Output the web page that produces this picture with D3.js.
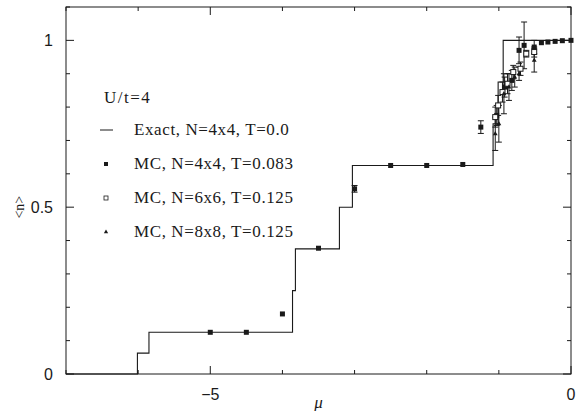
<!DOCTYPE html>
<html><head><meta charset="utf-8">
<script src="https://cdn.jsdelivr.net/npm/d3@7"></script>
<style>body{margin:0;background:#fff}svg{display:block}</style>
</head><body>
<script>
// Exact step function (N=4x4, T=0): left edge of each step and its value
const exactMu = [-7.0, -6.01, -5.85, -3.86, -3.82, -3.21, -3.03, -1.08, -1.01, -0.94, 0.0];
const exactN  = [0.0, 0.0625, 0.125, 0.25, 0.375, 0.5, 0.625, 0.75, 0.875, 1.0, 1.0];

// MC, N=4x4, T=0.083 (filled squares)
const mc4Mu  = [-5.0, -4.5, -4.0, -3.5, -3.0, -2.5, -2.0, -1.5, -1.25, -1.03, -0.92, -0.82, -0.72, -0.65, -0.51, -0.41, -0.32, -0.22, -0.12, 0.0];
const mc4N   = [0.125, 0.125, 0.18, 0.377, 0.555, 0.625, 0.625, 0.628, 0.74, 0.775, 0.86, 0.88, 0.97, 0.985, 0.98, 0.993, 0.995, 0.997, 0.999, 1.0];
const mc4Err = [0.003, 0.003, 0.004, 0.003, 0.01, 0.003, 0.003, 0.004, 0.019, 0.03, 0.03, 0.03, 0.04, 0.07, 0.02, 0.004, 0.003, 0.003, 0.002, 0.002];

// MC, N=6x6, T=0.125 (open squares)
const mc6Mu  = [-1.05, -1.01, -0.95, -0.88, -0.8, -0.7, -0.62, -0.51];
const mc6N   = [0.77, 0.805, 0.845, 0.87, 0.905, 0.915, 0.96, 0.965];
const mc6Err = [0.03, 0.03, 0.03, 0.03, 0.02, 0.02, 0.01, 0.015];

// MC, N=8x8, T=0.125 (small triangles)
const mc8Mu  = [-1.05, -1.0, -0.93, -0.86, -0.78, -0.72, -0.51];
const mc8N   = [0.72, 0.75, 0.84, 0.86, 0.89, 0.9, 0.94];
const mc8Err = [0.05, 0.055, 0.06, 0.04, 0.03, 0.02, 0.035];

const xTicksMajor = [-5, 0];
const xTicksMinor = [-7, -6, -4, -3, -2, -1];
const yTicksMajor = [0, 0.5, 1];
const yTicksMinor = [0.1, 0.2, 0.3, 0.4, 0.6, 0.7, 0.8, 0.9, 1.1];

const legendLabels = ["Exact, N=4x4, T=0.0", "MC, N=4x4, T=0.083", "MC, N=6x6, T=0.125", "MC, N=8x8, T=0.125"];

const W = 576, H = 411;
const m = {left: 66, right: 5, top: 7, bottom: 37};
const ink = "#1a1a1a";

const svg = d3.select("body").append("svg").attr("width", W).attr("height", H);
const x = d3.scaleLinear().domain([-7, 0]).range([m.left, W - m.right]);
const y = d3.scaleLinear().domain([0, 1.1]).range([H - m.bottom, m.top]);

// frame
svg.append("rect").attr("x", m.left).attr("y", m.top)
  .attr("width", W - m.right - m.left).attr("height", H - m.bottom - m.top)
  .attr("fill", "none").attr("stroke", ink).attr("stroke-width", 1);

// ticks (inward on all four sides)
const tickG = svg.append("g").attr("stroke", ink).attr("stroke-width", 1);
function vtick(v, len) {
  tickG.append("line").attr("x1", x(v)).attr("x2", x(v)).attr("y1", y(0)).attr("y2", y(0) - len);
  tickG.append("line").attr("x1", x(v)).attr("x2", x(v)).attr("y1", y(1.1)).attr("y2", y(1.1) + len);
}
function htick(v, len) {
  tickG.append("line").attr("y1", y(v)).attr("y2", y(v)).attr("x1", x(-7)).attr("x2", x(-7) + len);
  tickG.append("line").attr("y1", y(v)).attr("y2", y(v)).attr("x1", x(0)).attr("x2", x(0) - len);
}
xTicksMajor.forEach(v => vtick(v, 8));
xTicksMinor.forEach(v => vtick(v, 4));
yTicksMajor.forEach(v => htick(v, 8));
yTicksMinor.forEach(v => htick(v, 4));

// tick labels
const fmt = d3.format("");
const tl = svg.append("g").attr("font-family", "Liberation Sans, Arial, sans-serif").attr("font-size", 16).attr("fill", ink);
xTicksMajor.forEach(v => tl.append("text").attr("x", x(v)).attr("y", y(0) + 26).attr("text-anchor", "middle")
  .text(v < 0 ? "\u2212" + Math.abs(v) : fmt(v)));
yTicksMajor.forEach(v => tl.append("text").attr("x", m.left - 13).attr("y", y(v) + 6).attr("text-anchor", "end").text(fmt(v)));

// axis titles
svg.append("text").attr("x", x(-3.5)).attr("y", H - 3).attr("text-anchor", "middle")
  .attr("font-family", "Liberation Serif, serif").attr("font-style", "italic").attr("font-size", 17).attr("fill", ink).text("\u03bc");
svg.append("text").attr("transform", `translate(24,${y(0.5)}) rotate(-90)`).attr("text-anchor", "middle")
  .attr("font-family", "Liberation Serif, serif").attr("font-size", 14).attr("fill", ink).text("<n>");

// exact step line
const stepData = exactMu.map((d, i) => [d, exactN[i]]);
svg.append("path").datum(stepData)
  .attr("d", d3.line().x(d => x(d[0])).y(d => y(d[1])).curve(d3.curveStepAfter))
  .attr("fill", "none").attr("stroke", ink).attr("stroke-width", 1.1);

// error bars and markers
function errbars(mu, n, err) {
  const g = svg.append("g").attr("stroke", ink).attr("stroke-width", 1);
  mu.forEach((d, i) => {
    if (err[i] * 334 < 3) return;
    const X = x(d), y1 = y(n[i] - err[i]), y2 = y(n[i] + err[i]);
    g.append("line").attr("x1", X).attr("x2", X).attr("y1", y1).attr("y2", y2);
    g.append("line").attr("x1", X - 3).attr("x2", X + 3).attr("y1", y1).attr("y2", y1);
    g.append("line").attr("x1", X - 3).attr("x2", X + 3).attr("y1", y2).attr("y2", y2);
  });
}
errbars(mc4Mu, mc4N, mc4Err);
errbars(mc6Mu, mc6N, mc6Err);
errbars(mc8Mu, mc8N, mc8Err);

svg.append("g").selectAll("rect").data(mc4Mu.map((d, i) => [d, mc4N[i]])).join("rect")
  .attr("x", d => x(d[0]) - 2.5).attr("y", d => y(d[1]) - 2.5).attr("width", 5).attr("height", 5).attr("fill", ink);
svg.append("g").selectAll("rect").data(mc6Mu.map((d, i) => [d, mc6N[i]])).join("rect")
  .attr("x", d => x(d[0]) - 2.5).attr("y", d => y(d[1]) - 2.5).attr("width", 5).attr("height", 5)
  .attr("fill", "#fff").attr("stroke", ink).attr("stroke-width", 1);
const tri = d3.symbol().type(d3.symbolTriangle).size(10);
svg.append("g").selectAll("path").data(mc8Mu.map((d, i) => [d, mc8N[i]])).join("path")
  .attr("transform", d => `translate(${x(d[0])},${y(d[1])})`).attr("d", tri).attr("fill", ink);

// legend
const lg = svg.append("g").attr("font-family", "Liberation Serif, serif").attr("font-size", 17).attr("letter-spacing", 0.6).attr("fill", ink);
lg.append("text").attr("x", 104).attr("y", 103).attr("letter-spacing", 1.5).text("U/t=4");
const rowY = [130, 164, 198, 232];
legendLabels.forEach((t, i) => lg.append("text").attr("x", 134).attr("y", rowY[i] + 5).text(t));
lg.append("line").attr("x1", 100).attr("x2", 113).attr("y1", rowY[0]).attr("y2", rowY[0]).attr("stroke", ink);
lg.append("rect").attr("x", 104).attr("y", rowY[1] - 2).attr("width", 4).attr("height", 4).attr("fill", ink);
lg.append("rect").attr("x", 104).attr("y", rowY[2] - 2).attr("width", 4).attr("height", 4).attr("fill", "#fff").attr("stroke", ink).attr("stroke-width", 0.8);
lg.append("path").attr("transform", `translate(106,${rowY[3]})`).attr("d", d3.symbol().type(d3.symbolTriangle).size(8)).attr("fill", ink);
</script>
</body></html>
